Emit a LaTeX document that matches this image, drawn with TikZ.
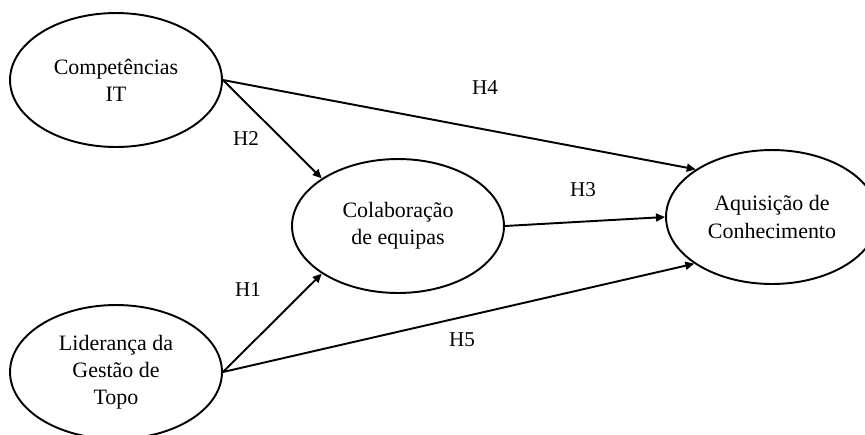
\documentclass[tikz,border=0pt]{standalone}
\usepackage{fontspec}
\setmainfont{Liberation Serif}
\usetikzlibrary{shapes.geometric,arrows.meta}

\begin{document}
\begin{tikzpicture}[x=0.02cm, y=-0.02cm,
  construct/.style={ellipse, draw, line width=1.1pt, minimum width=4.24cm,
                    minimum height=2.68cm, align=center, inner sep=0pt,
                    font=\fontsize{12.5}{15.4}\selectfont},
  hyp/.style={line width=1.1pt, -{Triangle[length=1.8mm, width=1.6mm]}},
  hlabel/.style={font=\fontsize{12}{14}\selectfont}]

\useasboundingbox (0,0) rectangle (865,434);
\clip (0,0) rectangle (865,434);

\draw (116,80)  node[construct] (comp)  {Competências\\IT}
      (116,372) node[construct] (lider) {Liderança da\\Gestão de\\Topo}
      (398,226) node[construct] (colab) {Colaboração\\de equipas}
      (772,217) node[construct] (aquis) {Aquisição de\\Conhecimento};

\draw[hyp] (comp.east)  -- (colab.148);
\draw[hyp] (comp.east)  -- (aquis.148.6);
\draw[hyp] (colab.east) -- (aquis.west);
\draw[hyp] (lider.east) -- (colab.212);
\draw[hyp] (lider.east) -- (aquis.211.8);

\draw (485,88)  node[hlabel] (h4) {H4}
      (246,139) node[hlabel] (h2) {H2}
      (583,190) node[hlabel] (h3) {H3}
      (248,290) node[hlabel] (h1) {H1}
      (462,340) node[hlabel] (h5) {H5};

\end{tikzpicture}
\end{document}
